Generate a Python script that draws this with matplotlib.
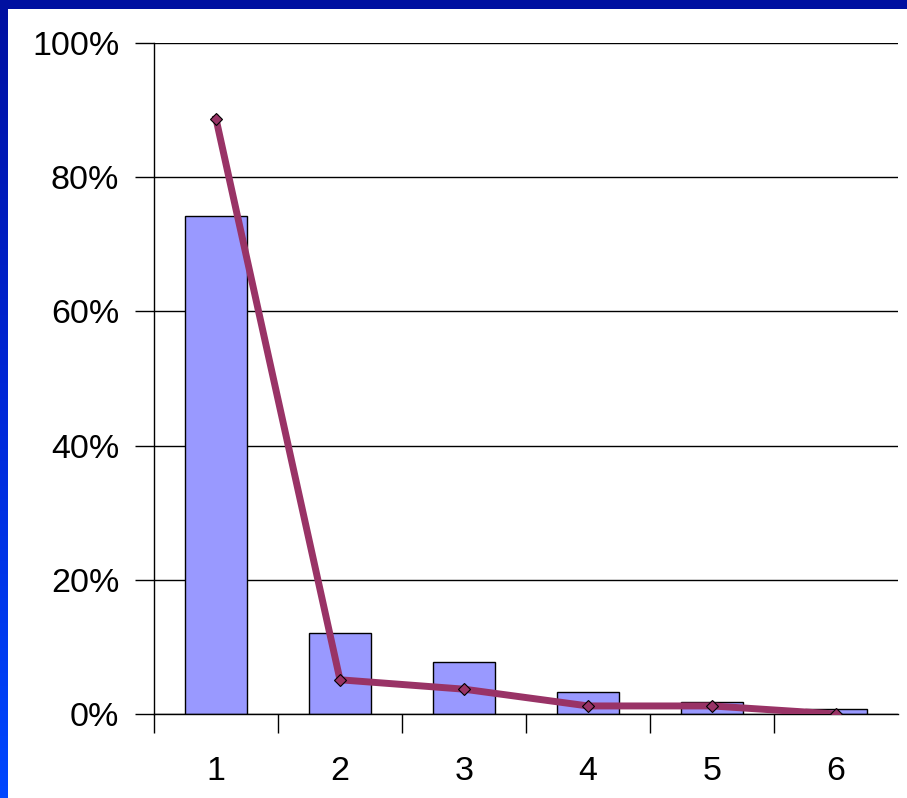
import numpy as np
import matplotlib.pyplot as plt
from matplotlib.ticker import FixedLocator, PercentFormatter

categories = ["1", "2", "3", "4", "5", "6"]
bar_values = [74.2, 12.1, 7.7, 3.3, 1.8, 0.7]
line_values = [88.7, 5.1, 3.7, 1.2, 1.2, 0.0]
y_ticks = [0, 20, 40, 60, 80, 100]

plt.rcParams['font.family'] = ['Liberation Sans', 'DejaVu Sans']

fig = plt.figure(figsize=(9.07, 7.98), dpi=100)
fig.patch.set_facecolor('white')

# blue frame along the top and left edges
top = fig.add_axes([0, 1 - 9 / 798, 1, 9 / 798])
top.set_axis_off()
top.add_patch(plt.Rectangle((0, 0), 1, 1, color='#0010a0', transform=top.transAxes))
left = fig.add_axes([0, 0, 8 / 907, 1])
grad = np.linspace(0, 1, 256).reshape(-1, 1)
cmap = plt.matplotlib.colors.LinearSegmentedColormap.from_list('edge', ['#0010a0', '#0028d8', '#0048ff'])
left.imshow(grad, aspect='auto', cmap=cmap, extent=[0, 1, 0, 1])
left.set_axis_off()

ax = fig.add_axes([154 / 907, 1 - 714 / 798, 744 / 907, 671 / 798])
x = np.arange(len(categories))
ax.bar(x, bar_values, width=0.5, color='#9999ff', edgecolor='black', linewidth=1, zorder=2)
ax.plot(x, line_values, color='#993366', linewidth=5, marker='D', markersize=6.5,
        markerfacecolor='#993366', markeredgecolor='black', markeredgewidth=0.8, zorder=3)

ax.set_xlim(-0.5, len(categories) - 0.5)
ax.set_ylim(0, 100)
ax.set_yticks(y_ticks)
ax.yaxis.set_major_formatter(PercentFormatter(decimals=0))
ax.yaxis.grid(True, color='black', linewidth=1)
ax.set_axisbelow(True)

ax.set_xticks(x)
ax.set_xticklabels(categories)
ax.xaxis.set_minor_locator(FixedLocator(np.arange(-0.5, len(categories) - 1, 1.0)))
ax.tick_params(axis='x', which='major', length=0, pad=30, labelsize=24.5)
ax.tick_params(axis='x', which='minor', length=14, width=1, direction='out')
ax.tick_params(axis='y', which='major', length=14, width=1, pad=11, labelsize=24.5)

for s in ['top', 'right']:
    ax.spines[s].set_visible(False)
ax.spines['left'].set_linewidth(1)
ax.spines['bottom'].set_linewidth(1)

fig.savefig('out.png', dpi=100, facecolor='white')
